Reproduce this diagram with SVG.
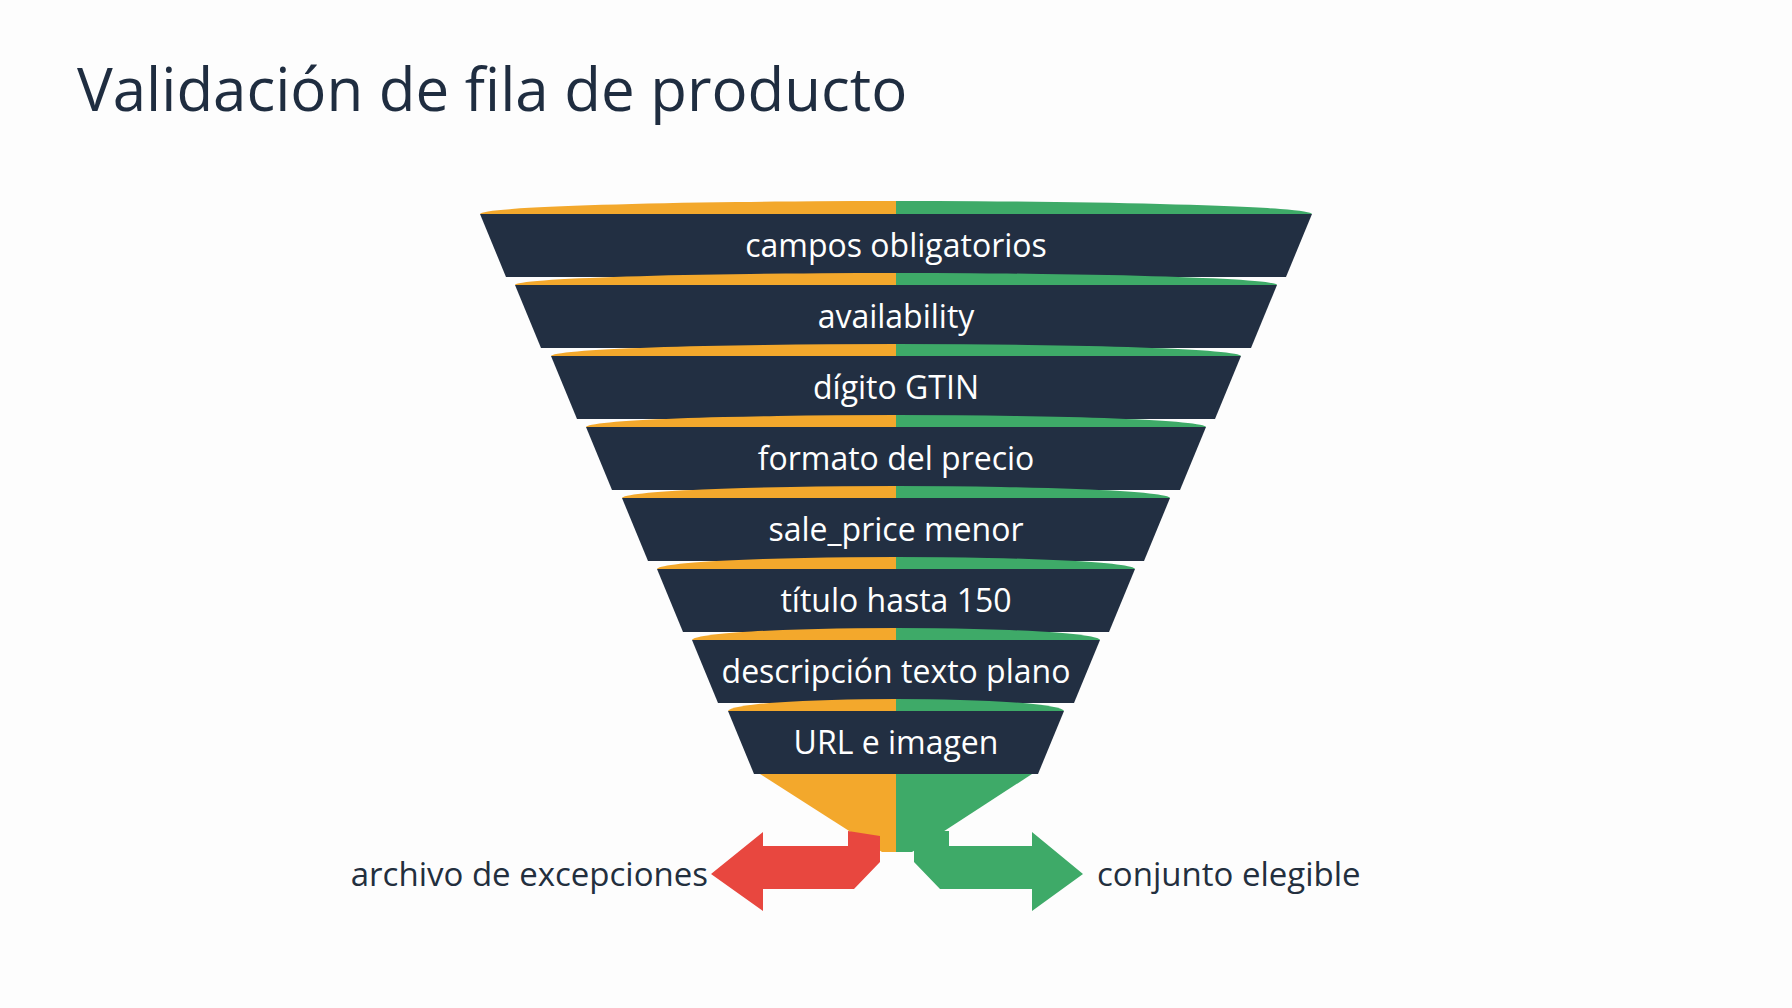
<svg xmlns="http://www.w3.org/2000/svg" width="1792" height="1008" viewBox="0 0 1792 1008">
<style>
.o{fill:#F3A82C}.g{fill:#3EAA68}.d{fill:#222F42}
.t{font-family:"Open Sans","Noto Sans",sans-serif;font-size:32px;fill:#fff;text-anchor:middle}
.l{font-family:"Open Sans","Noto Sans",sans-serif;font-size:33px;fill:#232F3E}
</style>
<rect width="1792" height="1008" fill="#fdfdfd"/>
<text x="77" y="111" font-family="Open Sans, Noto Sans, sans-serif" font-size="60" fill="#1f2d40">Validación de fila de producto</text>
<g id="funnel-bottom">
<polygon class="o" points="760,774 896,774 896,852 882,852"/>
<polygon class="g" points="896,774 1032,774 912,852 896,852"/>
</g>
<g id="connectors">
<polygon fill="#E8473F" points="880,836 880,862 854,889 763,889 763,911 711,874 763,832 763,846 848,846 848,831"/>
<polygon fill="#3EAA68" points="914,831 914,862 940,889 1032,889 1032,911 1083,874 1032,832 1032,846 949,846 949,831"/>
</g>
<g id="band0"><path class="o" d="M480,214 A416,13 0 0 1 896,201 L896,214Z"/><path class="g" d="M896,201 A416,13 0 0 1 1312,214 L896,214Z"/><polygon class="d" points="480,214 1312,214 1286,277 506,277"/><text class="t" x="896" y="257">campos obligatorios</text></g>
<g id="band1"><path class="o" d="M515,285 A381,12 0 0 1 896,273 L896,285Z"/><path class="g" d="M896,273 A381,12 0 0 1 1277,285 L896,285Z"/><polygon class="d" points="515,285 1277,285 1251,348 541,348"/><text class="t" x="896" y="328">availability</text></g>
<g id="band2"><path class="o" d="M551,356 A345,12 0 0 1 896,344 L896,356Z"/><path class="g" d="M896,344 A345,12 0 0 1 1241,356 L896,356Z"/><polygon class="d" points="551,356 1241,356 1215,419 577,419"/><text class="t" x="896" y="399">dígito GTIN</text></g>
<g id="band3"><path class="o" d="M586,427 A310,12 0 0 1 896,415 L896,427Z"/><path class="g" d="M896,415 A310,12 0 0 1 1206,427 L896,427Z"/><polygon class="d" points="586,427 1206,427 1180,490 612,490"/><text class="t" x="896" y="470">formato del precio</text></g>
<g id="band4"><path class="o" d="M622,498 A274,12 0 0 1 896,486 L896,498Z"/><path class="g" d="M896,486 A274,12 0 0 1 1170,498 L896,498Z"/><polygon class="d" points="622,498 1170,498 1144,561 648,561"/><text class="t" x="896" y="541">sale_price menor</text></g>
<g id="band5"><path class="o" d="M657,569 A239,12 0 0 1 896,557 L896,569Z"/><path class="g" d="M896,557 A239,12 0 0 1 1135,569 L896,569Z"/><polygon class="d" points="657,569 1135,569 1109,632 683,632"/><text class="t" x="896" y="612">título hasta 150</text></g>
<g id="band6"><path class="o" d="M692,640 A204,12 0 0 1 896,628 L896,640Z"/><path class="g" d="M896,628 A204,12 0 0 1 1100,640 L896,640Z"/><polygon class="d" points="692,640 1100,640 1074,703 718,703"/><text class="t" x="896" y="683">descripción texto plano</text></g>
<g id="band7"><path class="o" d="M728,711 A168,12 0 0 1 896,699 L896,711Z"/><path class="g" d="M896,699 A168,12 0 0 1 1064,711 L896,711Z"/><polygon class="d" points="728,711 1064,711 1038,774 754,774"/><text class="t" x="896" y="754">URL e imagen</text></g>
<g id="label-left"><text class="l" x="708" y="886" text-anchor="end">archivo de excepciones</text></g>
<g id="label-right"><text class="l" x="1097" y="886">conjunto elegible</text></g>
</svg>
